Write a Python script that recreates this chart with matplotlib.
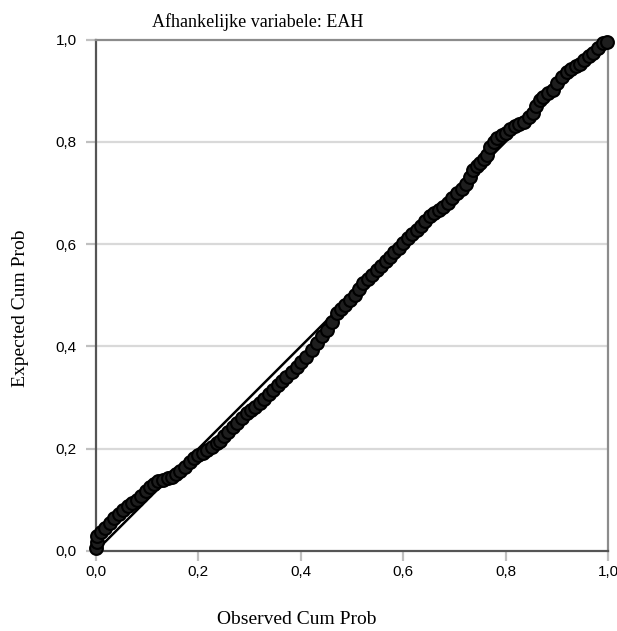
import matplotlib
matplotlib.use('Agg')
import matplotlib.pyplot as plt

# observed vs expected cumulative probability
observed = [
    0.000, 0.001, 0.002, 0.010, 0.018, 0.027, 0.036, 0.045, 0.053, 0.062,
    0.071, 0.080, 0.088, 0.097, 0.105, 0.114, 0.122, 0.131, 0.140, 0.148,
    0.157, 0.165, 0.174, 0.184, 0.192, 0.200, 0.209, 0.216, 0.226, 0.236,
    0.242, 0.250, 0.258, 0.268, 0.276, 0.285, 0.294, 0.302, 0.311, 0.320,
    0.328, 0.337, 0.346, 0.355, 0.363, 0.372, 0.382, 0.392, 0.401, 0.411,
    0.421, 0.431, 0.441, 0.451, 0.460, 0.470, 0.478, 0.487, 0.496, 0.505,
    0.513, 0.522, 0.531, 0.540, 0.548, 0.557, 0.566, 0.574, 0.583, 0.591,
    0.600, 0.609, 0.617, 0.626, 0.635, 0.643, 0.652, 0.661, 0.670, 0.678,
    0.687, 0.696, 0.705, 0.714, 0.722, 0.730, 0.737, 0.744, 0.750, 0.757,
    0.763, 0.770, 0.777, 0.783, 0.792, 0.800, 0.809, 0.818, 0.827, 0.835,
    0.845, 0.854, 0.860, 0.867, 0.874, 0.883, 0.893, 0.900, 0.910, 0.919,
    0.928, 0.937, 0.945, 0.954, 0.962, 0.971, 0.981, 0.991, 0.999,
]
expected = [
    0.005, 0.018, 0.030, 0.038, 0.045, 0.055, 0.064, 0.072, 0.080, 0.087,
    0.094, 0.100, 0.108, 0.117, 0.125, 0.131, 0.136, 0.139, 0.142, 0.145,
    0.150, 0.156, 0.164, 0.174, 0.182, 0.187, 0.191, 0.197, 0.204, 0.211,
    0.216, 0.224, 0.233, 0.243, 0.251, 0.260, 0.269, 0.275, 0.282, 0.289,
    0.297, 0.306, 0.315, 0.324, 0.333, 0.341, 0.350, 0.360, 0.370, 0.380,
    0.393, 0.406, 0.420, 0.432, 0.448, 0.465, 0.473, 0.481, 0.491, 0.501,
    0.512, 0.523, 0.532, 0.540, 0.549, 0.558, 0.566, 0.575, 0.584, 0.593,
    0.602, 0.611, 0.619, 0.628, 0.636, 0.645, 0.654, 0.661, 0.667, 0.673,
    0.681, 0.690, 0.699, 0.708, 0.718, 0.732, 0.745, 0.752, 0.758, 0.766,
    0.774, 0.790, 0.799, 0.807, 0.813, 0.818, 0.826, 0.831, 0.835, 0.839,
    0.848, 0.857, 0.870, 0.882, 0.888, 0.895, 0.901, 0.914, 0.926, 0.937,
    0.942, 0.948, 0.953, 0.960, 0.967, 0.973, 0.983, 0.993, 0.996,
]
ticks = [0.0, 0.2, 0.4, 0.6, 0.8, 1.0]
tick_labels = ['0,0', '0,2', '0,4', '0,6', '0,8', '1,0']

SERIF = ['Liberation Serif', 'DejaVu Serif']
SANS = ['Liberation Sans', 'DejaVu Sans']

fig = plt.figure(figsize=(6.17, 6.31), dpi=100)
ax = fig.add_axes([96 / 617, 1 - 551 / 631, 512 / 617, 511.5 / 631])

ax.set_xlim(0, 1)
ax.set_ylim(0, 1)

# horizontal grid only
for t in ticks[1:-1]:
    ax.axhline(t, color='#d9d9d9', lw=1.6, zorder=0)

ax.plot([0, 1], [0, 1], color='black', lw=1.8, zorder=2)
ax.scatter(observed, expected, s=85, facecolors='#1e1e1e', edgecolors='black',
           linewidths=1.5, zorder=3, clip_on=False)

ax.set_xticks(ticks)
ax.set_yticks(ticks)
ax.set_xticklabels(tick_labels, family=SANS, fontsize=11)
ax.set_yticklabels(tick_labels, family=SANS, fontsize=11)
ax.tick_params(axis='x', direction='out', length=7, width=1.6, color='#c0c0c0', pad=3)
ax.tick_params(axis='y', direction='out', length=7, width=1.6, color='#c0c0c0', pad=7)

for side in ['left', 'bottom']:
    ax.spines[side].set_color('#555555')
    ax.spines[side].set_linewidth(1.6)
for side in ['top', 'right']:
    ax.spines[side].set_color('#8c8c8c')
    ax.spines[side].set_linewidth(1.6)

fig.text(258 / 617, 1 - 22 / 631, 'Afhankelijke variabele: EAH', family=SERIF,
         fontsize=13, ha='center', va='center')
fig.text(297 / 617, 1 - 620 / 631, 'Observed Cum Prob', family=SERIF,
         fontsize=14, ha='center', va='center')
fig.text(21 / 617, 1 - 308 / 631, 'Expected Cum Prob', family=SERIF,
         fontsize=14, ha='center', va='center', rotation=90)

fig.savefig('out.png', dpi=100, facecolor='white')
